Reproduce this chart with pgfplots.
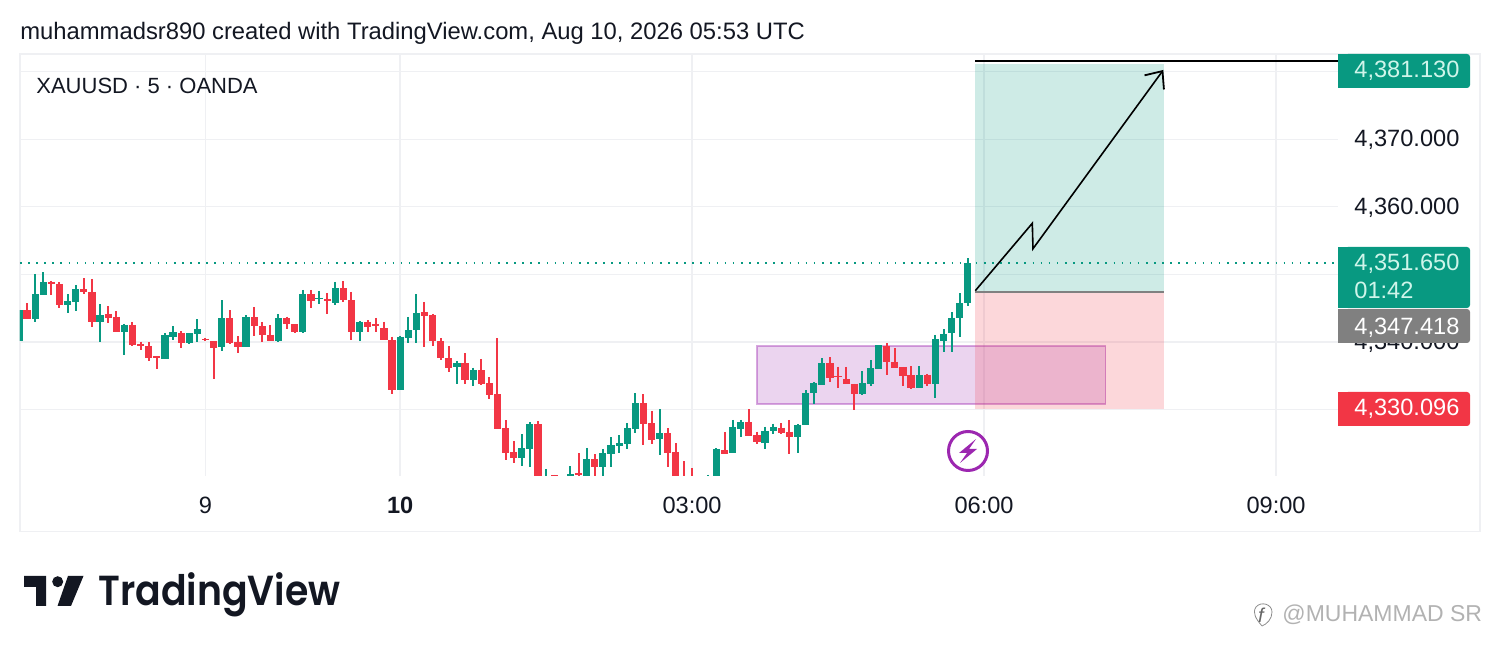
\documentclass[border=0pt]{standalone}
\usepackage{fontspec}
\usepackage{pgfplots}
\usepackage{pgfplotstable}
\pgfplotsset{compat=1.18}
\usetikzlibrary{arrows.meta}
\setmainfont{Liberation Sans}
\newfontfamily\logofont{Poppins SemiBold}
\definecolor{upc}{HTML}{089981}
\definecolor{dnc}{HTML}{F23645}
\definecolor{gridc}{HTML}{EFF0F3}
\definecolor{purp}{HTML}{9C27B0}
\definecolor{mint}{HTML}{CFF5EA}
\definecolor{ink}{HTML}{131722}
\pgfplotstableread{
x o h l c
-47 4340.12 4344.71 4340.12 4344.71
-45 4343.38 4350.05 4342.98 4347.03
-44 4346.98 4350.29 4346.98 4348.81
-41 4345.50 4347.03 4344.32 4346.00
-40 4345.95 4348.42 4344.61 4347.77
-37 4342.98 4345.55 4340.02 4343.92
-34 4341.50 4342.64 4338.10 4342.49
-29 4337.50 4341.26 4337.50 4341.01
-28 4340.76 4342.34 4340.27 4341.40
-26 4339.77 4341.26 4339.68 4341.26
-25 4341.21 4343.33 4339.97 4341.85
-22 4339.18 4346.15 4338.69 4343.48
-19 4339.28 4343.92 4339.28 4343.63
-15 4340.12 4344.07 4340.02 4343.48
-12 4341.41 4347.68 4341.26 4347.08
-10 4346.29 4347.53 4345.65 4346.49
-8 4345.80 4348.86 4345.41 4347.97
-5 4341.50 4343.08 4340.12 4342.94
0 4332.86 4340.86 4332.81 4340.76
1 4340.62 4343.68 4339.88 4341.70
2 4341.70 4347.08 4339.88 4344.27
7 4336.32 4337.16 4333.80 4336.86
9 4334.34 4336.17 4333.51 4335.78
15 4322.84 4326.34 4321.60 4324.22
16 4324.17 4328.07 4321.50 4327.82
18 4317.50 4321.11 4317.00 4319.60
21 4318.50 4321.60 4318.00 4320.37
23 4320.00 4324.27 4319.70 4322.59
25 4321.50 4324.12 4319.90 4323.48
26 4323.43 4325.85 4321.50 4324.66
27 4324.62 4326.15 4323.58 4324.96
28 4324.91 4327.97 4324.17 4327.18
29 4327.13 4332.37 4326.54 4330.89
32 4325.60 4330.00 4323.28 4326.44
38 4317.00 4320.27 4316.00 4319.50
39 4317.50 4324.22 4317.00 4324.12
41 4323.58 4328.42 4323.58 4327.33
42 4327.13 4328.42 4325.85 4328.17
45 4325.06 4327.43 4324.17 4326.79
46 4326.84 4327.87 4326.34 4327.38
49 4325.95 4327.82 4323.58 4327.68
50 4327.72 4332.81 4327.72 4332.37
51 4332.37 4334.05 4330.79 4333.85
52 4333.60 4337.55 4333.60 4336.81
57 4332.22 4335.63 4332.17 4333.85
58 4333.70 4337.30 4333.45 4336.07
59 4335.92 4339.48 4335.92 4339.48
64 4333.21 4336.37 4333.21 4335.03
66 4333.75 4341.01 4331.68 4340.37
67 4340.17 4341.85 4338.54 4341.21
68 4341.25 4344.37 4338.54 4343.58
69 4343.58 4347.18 4340.71 4345.70
70 4345.70 4352.37 4345.35 4351.65
}\upcandles
\pgfplotstableread{
x o h l c
-46 4344.71 4345.70 4343.38 4343.38
-43 4348.86 4349.01 4346.98 4348.61
-42 4348.56 4348.81 4345.06 4345.45
-39 4347.77 4349.45 4347.13 4347.38
-38 4347.38 4349.31 4342.24 4342.98
-36 4344.12 4345.26 4342.79 4343.53
-35 4343.68 4344.56 4341.50 4341.50
-33 4342.49 4342.94 4339.43 4339.53
-32 4339.73 4340.02 4338.79 4339.43
-31 4339.38 4339.92 4337.16 4337.55
-30 4337.85 4337.85 4336.02 4337.65
-27 4341.26 4341.60 4339.13 4339.87
-24 4340.42 4340.57 4340.12 4340.22
-23 4340.07 4340.07 4334.54 4339.13
-21 4343.48 4344.66 4339.68 4339.87
-20 4339.97 4340.81 4338.34 4339.28
-18 4343.63 4345.16 4340.86 4342.29
-17 4342.34 4342.94 4339.97 4341.06
-16 4341.06 4342.44 4340.12 4340.17
-14 4343.48 4343.73 4341.95 4342.59
-13 4342.59 4342.59 4341.26 4341.41
-11 4347.08 4347.68 4345.06 4346.10
-9 4346.29 4347.23 4344.12 4346.05
-7 4347.97 4349.01 4345.95 4346.20
-6 4346.20 4347.38 4340.32 4341.50
-4 4342.94 4343.18 4341.50 4342.25
-3 4342.59 4343.53 4341.46 4342.39
-2 4342.00 4342.99 4340.32 4340.32
-1 4340.27 4340.76 4332.27 4332.91
3 4344.42 4345.90 4339.23 4343.88
4 4343.97 4344.12 4339.38 4340.07
5 4340.07 4340.52 4337.31 4337.60
6 4337.55 4339.38 4335.58 4336.12
8 4336.81 4338.34 4333.80 4334.34
10 4335.78 4337.46 4333.60 4333.75
11 4333.85 4334.74 4331.48 4332.07
12 4332.22 4340.52 4327.13 4327.13
13 4327.18 4328.37 4322.49 4323.58
14 4323.68 4325.31 4322.10 4322.79
17 4327.82 4328.27 4315.80 4316.50
19 4320.20 4320.30 4318.00 4319.00
20 4318.50 4319.60 4317.00 4317.80
22 4320.52 4323.48 4319.50 4320.22
24 4322.59 4323.33 4319.90 4321.50
30 4330.89 4332.22 4324.71 4327.82
31 4327.92 4329.75 4324.86 4325.45
33 4326.44 4327.18 4321.50 4323.58
34 4323.68 4324.96 4318.00 4319.00
35 4319.50 4322.34 4316.00 4317.00
36 4318.50 4321.31 4316.00 4317.00
37 4318.00 4319.00 4316.00 4317.00
40 4323.97 4326.64 4323.38 4323.38
43 4328.07 4330.00 4326.05 4326.10
44 4326.19 4326.69 4324.91 4325.21
47 4327.28 4327.92 4326.29 4326.54
48 4326.69 4328.42 4323.33 4325.95
53 4336.81 4337.70 4334.09 4334.64
54 4334.93 4336.32 4333.16 4334.74
55 4334.44 4336.27 4333.70 4333.80
56 4333.80 4333.80 4329.90 4332.32
60 4339.38 4339.77 4335.13 4337.06
61 4337.06 4339.03 4336.17 4336.17
62 4336.27 4336.27 4333.45 4334.98
63 4335.03 4336.37 4332.96 4333.11
65 4335.03 4335.23 4333.50 4333.75
}\downcandles
\begin{document}
\begin{tikzpicture}
\path[use as bounding box] (0,0) rectangle (750pt,326pt);
\begin{scope}[shift={(0,326pt)},x=0.5pt,y=-0.5pt]
\draw[gridc,line width=0.7pt] (20,54) rectangle (1480,531.5);
\end{scope}
\begin{axis}[
  at={(10pt,88pt)},anchor=south west,scale only axis,
  width=659pt,height=211pt,
  xmin=-46.87,xmax=115.64,ymin=4320.12,ymax=4382.64,
  axis line style={draw=none},
  major tick length=0pt,
  grid=major,
  grid style={gridc,line width=0.7pt},
  xtick={-24,0,36,72,108},
  xticklabels={9,\textbf{10},03:00,06:00,09:00},
  ytick={4330,4340,4350,4360,4370,4380},
  yticklabels={{4,330.000},{4,340.000},{},{4,360.000},{4,370.000},{}},
  yticklabel pos=right,
  tick label style={font=\fontsize{11.8}{14}\selectfont,text=ink},
  yticklabel style={anchor=west,inner sep=0pt,xshift=8pt,yshift=-0.4pt},
  xticklabel style={inner sep=0pt,yshift=-10.5pt},
]
% purple box
\addplot[draw=purp,draw opacity=0.4,fill=purp,fill opacity=0.2,line width=0.6pt]
  coordinates {(44.0,4339.38)(87.02,4339.38)(87.02,4330.79)(44.0,4330.79)} -- cycle;
% long position
\addplot[draw=none,fill=upc,fill opacity=0.2]
  coordinates {(70.92,4381.13)(94.2,4381.13)(94.2,4347.418)(70.92,4347.418)} -- cycle;
\addplot[draw=none,fill=dnc,fill opacity=0.2]
  coordinates {(70.92,4347.418)(94.2,4347.418)(94.2,4330.096)(70.92,4330.096)} -- cycle;
\addplot[draw=black!50,line width=0.8pt] coordinates {(70.92,4347.418)(94.2,4347.418)};
% last price line
\addplot[draw=upc,line width=0.8pt,dash pattern=on 0.8pt off 3.25pt] coordinates {(-46.87,4351.65)(115.64,4351.65)};
% candles: wicks, then bodies
\addplot[draw=none,mark=none,error bars/.cd,y dir=minus,y explicit,error mark=none,
  error bar style={upc,line width=1pt}]
  table[x=x,y=h,y error minus expr=\thisrow{h}-\thisrow{l}] {\upcandles};
\addplot[draw=none,mark=none,error bars/.cd,y dir=minus,y explicit,error mark=none,
  error bar style={dnc,line width=1pt}]
  table[x=x,y=h,y error minus expr=\thisrow{h}-\thisrow{l}] {\downcandles};
\addplot[draw=none,mark=none,error bars/.cd,y dir=minus,y explicit,error mark=none,
  error bar style={upc,line width=3.6pt}]
  table[x=x,y=c,y error minus expr=\thisrow{c}-\thisrow{o}] {\upcandles};
\addplot[draw=none,mark=none,error bars/.cd,y dir=minus,y explicit,error mark=none,
  error bar style={dnc,line width=3.6pt}]
  table[x=x,y=o,y error minus expr=\thisrow{o}-\thisrow{c}] {\downcandles};
% drawn lines
\addplot[black,line width=1pt] coordinates {(70.92,4381.6)(115.64,4381.6)};
\addplot[black,line width=0.8pt,line join=miter,-{Straight Barb[length=7pt,width=12pt,line width=0.9pt]}]
  coordinates {(70.92,4347.57)(77.95,4357.56)(78.03,4353.79)(94.1,4380.27)};
\end{axis}
\begin{scope}[shift={(0,326pt)},x=0.5pt,y=-0.5pt]
% right tags
\newcommand\tag[3]{\fill[#1,rounded corners=1.5pt] (1345,#2) rectangle (1470,#3);\fill[#1] (1338,#2) rectangle (1350,#3);}
\tag{upc}{54}{88}
\tag{upc}{247}{308}
\tag{black!50}{309}{343}
\tag{dnc}{392}{426}
\tikzset{tagt/.style={anchor=base west,inner sep=0pt,font=\fontsize{11.8}{14}\selectfont}}
\node[tagt,text=mint] at (1354,78) {4,381.130};
\node[tagt,text=mint] at (1354,271) {4,351.650};
\node[tagt,text=mint] at (1354,299) {01:42};
\node[tagt,text=white] at (1354,335) {4,347.418};
\node[tagt,text=white] at (1354,416) {4,330.096};
% headers
\node[anchor=base west,inner sep=0pt,text=ink,font=\fontsize{11.9}{14}\selectfont] at (20,40) {muhammadsr890 created with TradingView.com, Aug 10, 2026 05:53 UTC};
\node[anchor=base west,inner sep=0pt,text=ink,font=\fontsize{11}{14}\selectfont] at (36,93.5) {XAUUSD · 5 · OANDA};
% event icon
\draw[purp,line width=1.5pt,fill=white] (968,451) circle[radius=19.5];
\fill[purp] (976,439) -- (959,453) -- (967,453) -- (960,463) -- (977,449) -- (969,449) -- cycle;
% logo
\fill[ink] (24,576) -- (46,576) -- (46,606) -- (36,606) -- (36,587) -- (24,587) -- cycle;
\fill[ink] (57.7,581.7) circle[radius=5.5];
\fill[ink] (68,576) -- (83.5,576) -- (71,606) -- (57.5,606) -- cycle;
\node[anchor=base west,inner sep=0pt,text=ink,font=\logofont\fontsize{21}{24}\selectfont] at (98,606) {\scalebox{0.9}[1]{TradingView}};
% watermark
\node[anchor=base west,inner sep=0pt,text=black!30,font=\fontsize{11.5}{13}\selectfont] at (1282,621.5) {@MUHAMMAD SR};
\draw[black!45,line width=0.4pt] (1262,626) .. controls (1256,619) and (1252,613) .. (1256,607) .. controls (1261,601) and (1272,604) .. (1272,612) .. controls (1272,619) and (1267,624) .. (1262,626);
\node[inner sep=0pt,text=black!60,font=\fontsize{10}{11}\itshape] at (1261,615) {f};
\end{scope}
\end{tikzpicture}
\end{document}
